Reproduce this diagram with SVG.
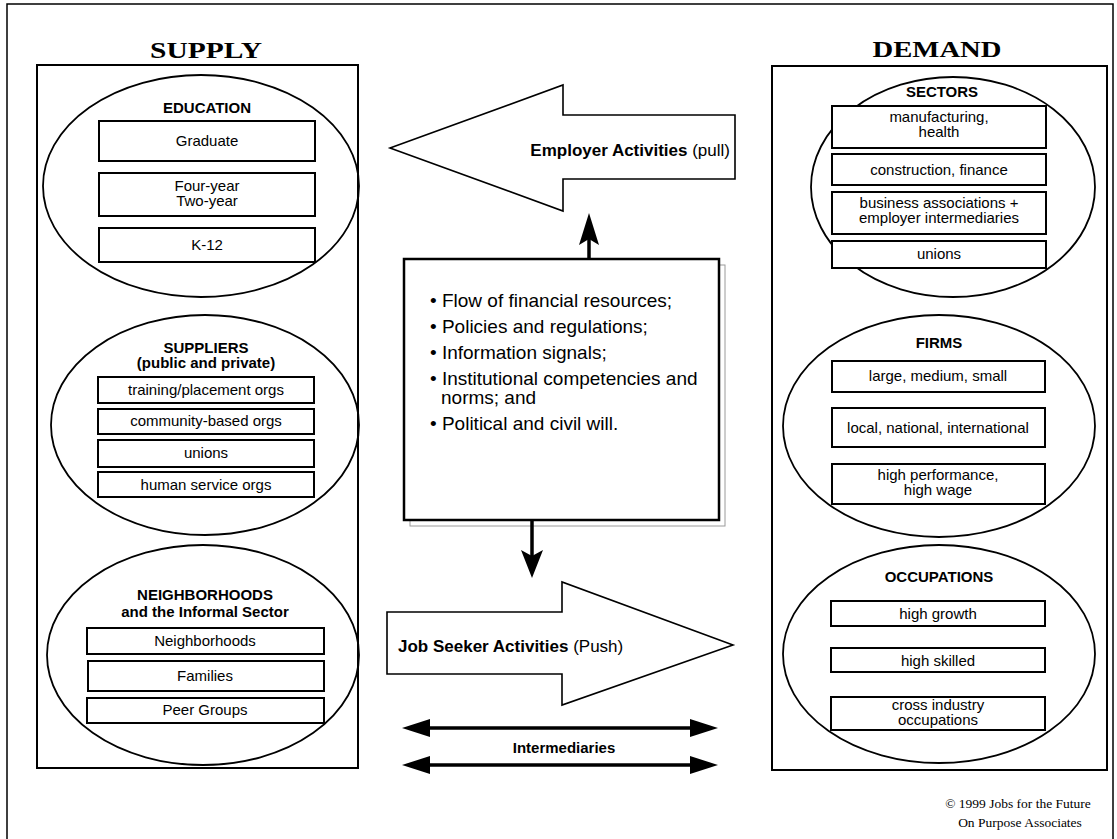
<svg xmlns="http://www.w3.org/2000/svg" width="1117" height="839" viewBox="0 0 1117 839">
<style>
.frame{fill:none;stroke:#000;stroke-width:1.5}
.panel{fill:none;stroke:#000;stroke-width:2}
.ell{fill:none;stroke:#000;stroke-width:1.8}
.item{fill:#fff;stroke:#000;stroke-width:2}
.hdr{font-family:"Liberation Serif",serif;font-weight:bold;font-size:23px;text-anchor:middle}
.ttl{font-family:"Liberation Sans",Arial,sans-serif;font-weight:bold;font-size:15px;text-anchor:middle}
.txt{font-family:"Liberation Sans",Arial,sans-serif;font-size:15px;text-anchor:middle}
.big{font-family:"Liberation Sans",Arial,sans-serif;font-size:17px}
.bul{font-family:"Liberation Sans",Arial,sans-serif;font-size:19px}
.bigarrow{fill:#fff;stroke:#000;stroke-width:1.6}
.conn{stroke:#000;stroke-width:3.5;fill:none}
.head{fill:#000}
.copy{font-family:"Liberation Serif",serif;font-size:13.5px;text-anchor:middle}
</style>
<rect width="1117" height="839" fill="#fff"/>
<path class="frame" d="M7,845 V4 H1113 V845"/>

<g id="supply">
<text class="hdr" x="206" y="58" textLength="112" lengthAdjust="spacingAndGlyphs">SUPPLY</text>
<rect class="panel" x="37" y="65" width="321" height="703"/>
</g>

<g id="education">
<ellipse class="ell" cx="201" cy="186" rx="158" ry="111"/>
<text class="ttl" x="207" y="113">EDUCATION</text>
<rect class="item" x="99" y="121" width="216" height="40"/>
<text class="txt" x="207" y="146">Graduate</text>
<rect class="item" x="99" y="173" width="216" height="43"/>
<text class="txt" x="207" y="191">Four-year</text>
<text class="txt" x="207" y="206">Two-year</text>
<rect class="item" x="99" y="228" width="216" height="34"/>
<text class="txt" x="207" y="250">K-12</text>
</g>

<g id="suppliers">
<ellipse class="ell" cx="205" cy="425" rx="154" ry="110"/>
<text class="ttl" x="206" y="353">SUPPLIERS</text>
<text class="ttl" x="206" y="368">(public and private)</text>
<rect class="item" x="98" y="377" width="216" height="26"/>
<text class="txt" x="206" y="395">training/placement orgs</text>
<rect class="item" x="98" y="409" width="216" height="25"/>
<text class="txt" x="206" y="426">community-based orgs</text>
<rect class="item" x="98" y="440" width="216" height="27"/>
<text class="txt" x="206" y="458">unions</text>
<rect class="item" x="98" y="472" width="216" height="25"/>
<text class="txt" x="206" y="490">human service orgs</text>
</g>

<g id="neighborhoods">
<ellipse class="ell" cx="203" cy="655" rx="156" ry="110"/>
<text class="ttl" x="205" y="600">NEIGHBORHOODS</text>
<text class="ttl" x="205" y="617">and the Informal Sector</text>
<rect class="item" x="87" y="628" width="237" height="26"/>
<text class="txt" x="205" y="646">Neighborhoods</text>
<rect class="item" x="88" y="661" width="236" height="30"/>
<text class="txt" x="205" y="681">Families</text>
<rect class="item" x="87" y="698" width="237" height="25"/>
<text class="txt" x="205" y="715">Peer Groups</text>
</g>

<g id="demand">
<text class="hdr" x="937" y="57" textLength="129" lengthAdjust="spacingAndGlyphs">DEMAND</text>
<rect class="panel" x="772" y="66" width="335" height="704"/>
</g>

<g id="sectors">
<ellipse class="ell" cx="953" cy="187" rx="142" ry="110"/>
<text class="ttl" x="942" y="97">SECTORS</text>
<rect class="item" x="832" y="106" width="214" height="42"/>
<text class="txt" x="939" y="122">manufacturing,</text>
<text class="txt" x="939" y="137">health</text>
<rect class="item" x="832" y="154" width="214" height="31"/>
<text class="txt" x="939" y="175">construction, finance</text>
<rect class="item" x="832" y="192" width="214" height="42"/>
<text class="txt" x="939" y="208">business associations +</text>
<text class="txt" x="939" y="223">employer intermediaries</text>
<rect class="item" x="832" y="241" width="214" height="27"/>
<text class="txt" x="939" y="259">unions</text>
</g>

<g id="firms">
<ellipse class="ell" cx="939" cy="426" rx="156" ry="111"/>
<text class="ttl" x="939" y="348">FIRMS</text>
<rect class="item" x="832" y="361" width="213" height="31"/>
<text class="txt" x="938" y="381">large, medium, small</text>
<rect class="item" x="832" y="408" width="213" height="39"/>
<text class="txt" x="938" y="433">local, national, international</text>
<rect class="item" x="832" y="464" width="213" height="40"/>
<text class="txt" x="938" y="480">high performance,</text>
<text class="txt" x="938" y="495">high wage</text>
</g>

<g id="occupations">
<ellipse class="ell" cx="939" cy="654" rx="156" ry="109"/>
<text class="ttl" x="939" y="582">OCCUPATIONS</text>
<rect class="item" x="831" y="601" width="214" height="25"/>
<text class="txt" x="938" y="619">high growth</text>
<rect class="item" x="831" y="648" width="214" height="24"/>
<text class="txt" x="938" y="666">high skilled</text>
<rect class="item" x="831" y="697" width="214" height="33"/>
<text class="txt" x="938" y="710">cross industry</text>
<text class="txt" x="938" y="725">occupations</text>
</g>

<g id="employer-activities">
<polygon class="bigarrow" points="390,148 563,85 563,115 735,115 735,179 563,179 563,211"/>
<text class="big" x="730" y="156" text-anchor="end"><tspan font-weight="bold">Employer Activities</tspan> (pull)</text>
</g>

<g id="job-seeker-activities">
<polygon class="bigarrow" points="733,645 562,582 562,612 387,612 387,674 562,674 562,705"/>
<text class="big" x="398" y="652"><tspan font-weight="bold">Job Seeker Activities</tspan> (Push)</text>
</g>

<g id="factors">
<rect x="410" y="265" width="315" height="261" fill="none" stroke="#9a9a9a" stroke-width="1"/>
<rect x="404" y="259" width="315" height="261" fill="#fff" stroke="#000" stroke-width="2.5"/>
<text class="bul" x="430" y="307">• Flow of financial resources;</text>
<text class="bul" x="430" y="333">• Policies and regulations;</text>
<text class="bul" x="430" y="359">• Information signals;</text>
<text class="bul" x="430" y="385">• Institutional competencies and</text>
<text class="bul" x="441" y="404">norms; and</text>
<text class="bul" x="430" y="430">• Political and civil will.</text>
</g>

<g id="intermediaries">
<text class="ttl" x="564" y="753" font-size="15.5">Intermediaries</text>
</g>

<g id="connectors">
<line class="conn" x1="589" y1="260" x2="589" y2="238"/>
<polygon class="head" points="589,213 599,245 589,239 579,245"/>
<line class="conn" x1="532" y1="520" x2="532" y2="558"/>
<polygon class="head" points="532,578 521,550 532,556 543,550"/>
<line class="conn" x1="420" y1="728" x2="700" y2="728"/>
<polygon class="head" points="402,728 430,719 430,737"/>
<polygon class="head" points="718,728 690,719 690,737"/>
<line class="conn" x1="420" y1="765" x2="700" y2="765"/>
<polygon class="head" points="402,765 430,756 430,774"/>
<polygon class="head" points="718,765 690,756 690,774"/>
</g>

<g id="copyright">
<text class="copy" x="1018" y="808">© 1999 Jobs for the Future</text>
<text class="copy" x="1020" y="827">On Purpose Associates</text>
</g>
</svg>
